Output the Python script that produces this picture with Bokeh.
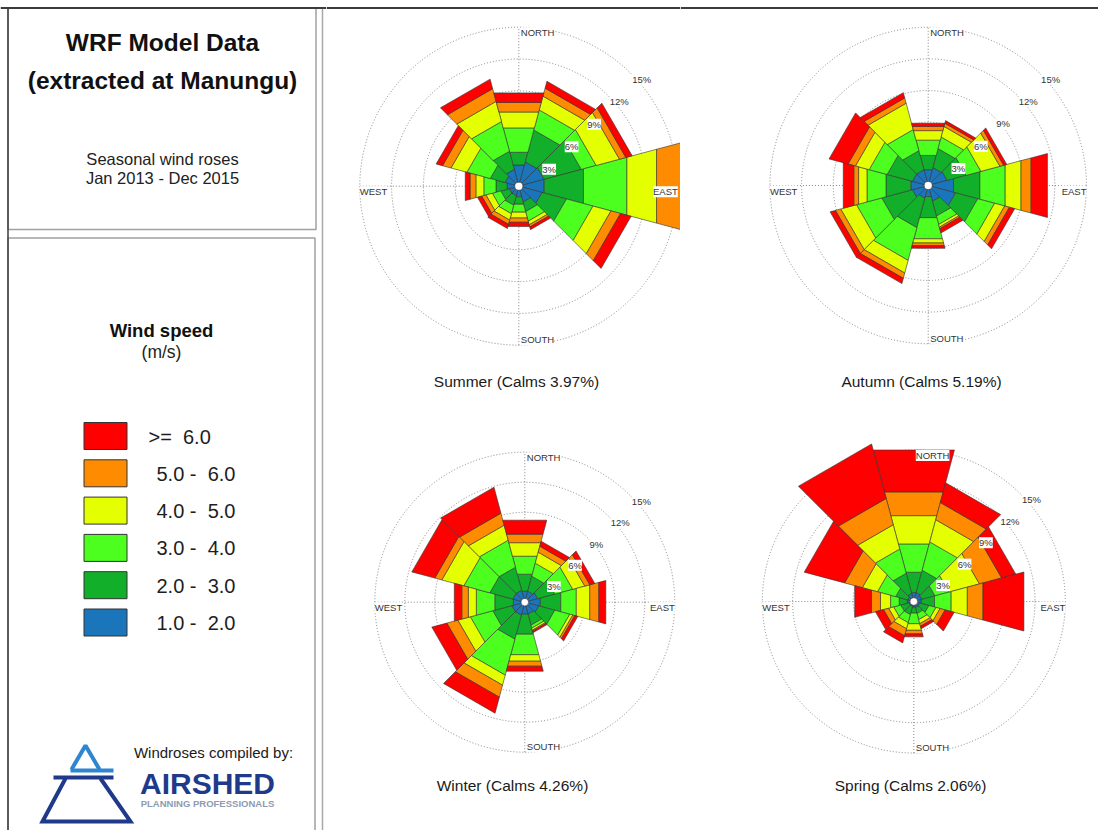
import math
from bokeh.plotting import figure
from bokeh.models import Range1d, Label
from bokeh.layouts import row, column
from bokeh.embed import file_html
from bokeh.resources import INLINE
from bokeh.core.properties import value

# ---------------- data ----------------
DIRECTIONS = [0, 30, 60, 90, 120, 150, 180, 210, 240, 270, 300, 330]
SPEED_BINS = ["1.0 -\u00a0 2.0", "2.0 -\u00a0 3.0", "3.0 -\u00a0 4.0", "4.0 -\u00a0 5.0",
              "5.0 -\u00a0 6.0", ">=\u00a0 6.0"]
BIN_COLORS = ["#1b75bb", "#12b02a", "#4cff1f", "#e3ff00", "#ff8c00", "#ff0000"]
RING_PCT = [3, 6, 9, 12, 15]
COMPASS = ["NORTH", "EAST", "SOUTH", "WEST"]

SEASON_NAMES = ["Summer", "Autumn", "Winter", "Spring"]
CALMS = [3.97, 5.19, 4.26, 2.06]

# frequency (%) per direction for each speed bin
summer_1_2 = [2.0, 2.3, 2.4, 2.4, 2.2, 1.5, 1.0, 0.9, 0.9, 1.1, 1.3, 1.6]
summer_2_3 = [1.2, 3.0, 3.5, 3.7, 2.3, 0.9, 0.7, 0.9, 0.8, 1.05, 1.4, 1.7]
summer_3_4 = [2.3, 1.9, 1.4, 4.1, 2.5, 0.9, 0.75, 0.8, 0.8, 1.15, 2.2, 2.8]
summer_4_5 = [1.5, 1.3, 2.2, 2.8, 1.7, 0.35, 0.55, 0.6, 0.6, 0.75, 1.5, 1.9]
summer_5_6 = [0.9, 0.75, 0.6, 3.5, 0.9, 0.2, 0.4, 0.4, 0.4, 0.55, 0.8, 1.2]
summer_6p = [0.9, 0.65, 0.6, 0.8, 1.0, 0.25, 0.4, 0.4, 0.4, 0.45, 0.6, 0.9]

autumn_1_2 = [1.5, 1.7, 1.8, 2.4, 2.6, 1.5, 1.05, 1.2, 1.5, 1.65, 1.5, 1.5]
autumn_2_3 = [1.35, 1.8, 1.8, 2.5, 2.1, 1.4, 2.0, 2.8, 2.9, 2.35, 2.4, 1.8]
autumn_3_4 = [1.45, 1.1, 1.4, 2.4, 1.6, 0.8, 2.0, 3.1, 2.4, 1.8, 1.7, 2.0]
autumn_4_5 = [0.9, 1.0, 1.8, 1.5, 0.95, 0.25, 0.4, 1.2, 1.5, 0.8, 1.3, 2.5]
autumn_5_6 = [0.4, 0.3, 0.35, 0.95, 0.45, 0.15, 0.25, 0.5, 0.5, 0.45, 0.7, 0.5]
autumn_6p = [0.3, 0.25, 0.3, 1.55, 0.5, 0.4, 0.25, 0.5, 0.5, 1.0, 1.8, 0.5]

winter_1_2 = [1.1, 1.1, 1.3, 1.55, 1.4, 1.2, 1.2, 1.3, 1.3, 1.15, 1.2, 1.2]
winter_2_3 = [1.7, 1.5, 1.7, 2.05, 1.6, 1.1, 2.0, 2.4, 1.9, 1.85, 2.3, 2.3]
winter_3_4 = [1.8, 1.3, 1.8, 1.55, 1.5, 0.3, 2.05, 3.6, 2.25, 1.85, 2.6, 2.7]
winter_4_5 = [1.35, 1.1, 1.2, 1.35, 0.3, 0.2, 0.65, 1.0, 1.25, 0.8, 2.2, 1.5]
winter_5_6 = [0.85, 0.6, 0.5, 0.9, 0.2, 0.1, 0.5, 1.2, 1.1, 0.65, 0.7, 1.2]
winter_6p = [1.4, 0.5, 0.5, 0.7, 0.3, 0.15, 0.5, 1.6, 1.5, 0.75, 2.3, 2.6]

spring_1_2 = [0.9, 0.9, 0.8, 0.75, 0.6, 0.6, 0.55, 0.5, 0.5, 0.65, 0.6, 0.8]
spring_2_3 = [2.0, 2.2, 1.3, 1.3, 0.9, 0.6, 0.6, 0.8, 0.8, 0.8, 1.2, 2.0]
spring_3_4 = [2.8, 2.8, 1.4, 1.65, 0.7, 0.6, 1.05, 0.8, 0.7, 0.85, 1.8, 2.4]
spring_4_5 = [2.8, 2.2, 3.0, 1.6, 0.4, 0.4, 0.65, 0.6, 0.5, 1.0, 1.5, 2.4]
spring_5_6 = [2.35, 1.7, 2.2, 1.55, 0.5, 0.25, 0.35, 0.7, 0.5, 0.9, 1.75, 2.6]
spring_6p = [4.15, 1.95, 1.4, 4.05, 0.9, 0.25, 0.3, 0.7, 0.8, 1.65, 4.0, 5.4]

SEASON_BINS = [
    [summer_1_2, summer_2_3, summer_3_4, summer_4_5, summer_5_6, summer_6p],
    [autumn_1_2, autumn_2_3, autumn_3_4, autumn_4_5, autumn_5_6, autumn_6p],
    [winter_1_2, winter_2_3, winter_3_4, winter_4_5, winter_5_6, winter_6p],
    [spring_1_2, spring_2_3, spring_3_4, spring_4_5, spring_5_6, spring_6p],
]

# ---------------- layout (page pixels) ----------------
SANS = "Liberation Sans, Arial, sans-serif"
RING_COLOR = "#7a7a7a"
EDGE = "#333333"
PAGE_W, PAGE_H = 1098, 830
LEFT_W = 326
TOP_H = 420

PANELS = [
    # fig box (x0, y0, w, h), centre (cx, cy), px per %, title centre
    ((LEFT_W, 0, 354, TOP_H), (518.3, 185.7), 10.6, (516, 381)),
    ((680, 0, PAGE_W - 680, TOP_H), (927.7, 185.0), 10.55, (921, 381)),
    ((LEFT_W, TOP_H, 374, PAGE_H - TOP_H), (524.3, 601.7), 10.0, (512, 785)),
    ((700, TOP_H, PAGE_W - 700, PAGE_H - TOP_H), (913.3, 601.0), 10.1, (910, 785)),
]

HALF = 15.0
KCH = 1.0 / math.cos(math.radians(HALF))


def petal(r0, r1, bearing):
    a0 = math.radians(bearing - HALF)
    a1 = math.radians(bearing + HALF)
    R0, R1 = r0 * KCH, r1 * KCH
    xs = [R0 * math.sin(a0), R1 * math.sin(a0), R1 * math.sin(a1), R0 * math.sin(a1)]
    ys = [R0 * math.cos(a0), R1 * math.cos(a0), R1 * math.cos(a1), R0 * math.cos(a1)]
    return xs, ys


def make_rose(idx):
    (x0, y0, w, h), (cx, cy), s, (tx, ty) = PANELS[idx]
    xr = Range1d((x0 - cx) / s, (x0 + w - cx) / s)
    yr = Range1d((cy - (y0 + h)) / s, (cy - y0) / s)
    p = figure(width=w, height=h, x_range=xr, y_range=yr, output_backend="svg",
               toolbar_location=None, min_border=0, x_axis_location=None,
               y_axis_location=None, outline_line_color=None)
    p.grid.visible = False
    p.background_fill_color = "white"
    p.border_fill_color = "white"

    R = RING_PCT[-1]
    p.circle(x=[0] * len(RING_PCT), y=[0] * len(RING_PCT), radius=RING_PCT,
             fill_color=None, line_color=RING_COLOR, line_dash="1 2", line_width=0.9)
    p.segment(x0=[-R, 0], y0=[0, -R], x1=[R, 0], y1=[0, R],
              line_color=RING_COLOR, line_dash="1 2", line_width=0.9)

    bins = SEASON_BINS[idx]
    cum = [0.0] * len(DIRECTIONS)
    xs, ys, cols = [], [], []
    for k, freq in enumerate(bins):
        for i, b in enumerate(DIRECTIONS):
            r0 = cum[i]
            r1 = r0 + freq[i]
            px, py = petal(r0, r1, b)
            xs.append(px)
            ys.append(py)
            cols.append(BIN_COLORS[k])
            cum[i] = r1
    p.patches(xs, ys, fill_color=cols, line_color=EDGE, line_width=0.6)
    p.circle(x=[0], y=[0], radius=0.38, fill_color="white", line_color=EDGE, line_width=0.6)

    # ring labels
    for r in RING_PCT:
        a = math.radians(45)
        p.add_layout(Label(x=r * math.sin(a), y=r * math.cos(a), text=f"{r}%",
                           text_font=SANS, text_font_size="9.5px", text_color="#333333",
                           text_align="left", text_baseline="top", x_offset=1,
                           background_fill_color="white"))
    # compass labels
    specs = {
        "NORTH": (0, R, "left", "top", 2),
        "EAST": (R, 0, "right", "top", 0),
        "SOUTH": (0, -R, "left", "bottom", 2),
        "WEST": (-R, 0, "left", "top", 0),
    }
    for name in COMPASS:
        lx, ly, al, bl, xo = specs[name]
        p.add_layout(Label(x=lx, y=ly, text=name, text_font=SANS, text_font_size="9.5px",
                           text_color="#333333", text_align=al, text_baseline=bl,
                           x_offset=xo, background_fill_color="white"))

    title = f"{SEASON_NAMES[idx]} (Calms {CALMS[idx]:.2f}%)"
    p.text(x=[(tx - cx) / s], y=[(cy - ty) / s], text=[title], text_align="center",
           text_baseline="middle", text_font=value(SANS), text_font_size="15.5px",
           text_color="#1a1a1a")

    if y0 == 0:
        ytop = (cy - 7.5) / s
        p.segment(x0=[xr.start], x1=[xr.end], y0=[ytop], y1=[ytop],
                  line_color="#3c3c3c", line_width=2)
    return p


# ---------------- left panel ----------------
left = figure(width=LEFT_W, height=PAGE_H, x_range=Range1d(0, LEFT_W), y_range=Range1d(PAGE_H, 0),
              output_backend="svg", toolbar_location=None, min_border=0,
              x_axis_location=None, y_axis_location=None, outline_line_color=None)
left.grid.visible = False
left.background_fill_color = "white"
left.border_fill_color = "white"

left.quad(left=[7.5, 7.5], right=[315.5, 314.5], top=[7.5, 237.5], bottom=[229, 840],
          fill_color=None, line_color="#a0a0a0", line_width=1.5)
left.segment(x0=[322], x1=[322], y0=[7], y1=[840], line_color="#a8a8a8", line_width=1.5)
left.segment(x0=[0, 7.5], x1=[LEFT_W, 7.5], y0=[7.5, 7], y1=[7.5, 840], line_color="#3c3c3c",
             line_width=[2, 1.5])

left.text(x=[162, 162], y=[42, 80], text=["WRF Model Data", "(extracted at Manungu)"],
          text_align="center", text_baseline="middle", text_font=value(SANS),
          text_font_style="bold", text_font_size="24.5px", text_color="#111111")
left.text(x=[162, 162], y=[158, 177], text=["Seasonal wind roses", "Jan 2013 - Dec 2015"],
          text_align="center", text_baseline="middle", text_font=value(SANS),
          text_font_size="16.5px", text_color="#222222")
left.text(x=[161], y=[330], text=["Wind speed"], text_align="center", text_baseline="middle",
          text_font=value(SANS), text_font_style="bold", text_font_size="18.5px",
          text_color="#111111")
left.text(x=[161], y=[351], text=["(m/s)"], text_align="center", text_baseline="middle",
          text_font=value(SANS), text_font_size="17.5px", text_color="#222222")

# legend (highest speed at the top)
leg_labels = list(reversed(SPEED_BINS))
leg_colors = list(reversed(BIN_COLORS))
tops = [422 + 37.3 * j for j in range(len(leg_labels))]
left.quad(left=[83.5] * 6, right=[126.5] * 6, top=tops, bottom=[t + 27 for t in tops],
          fill_color=leg_colors, line_color=EDGE, line_width=1)
left.text(x=[148 if lab.startswith(">") else 156 for lab in leg_labels],
          y=[t + 14 for t in tops], text=leg_labels, text_align="left",
          text_baseline="middle", text_font=value(SANS), text_font_size="20px",
          text_color="#1e1e1e")

# logo
left.text(x=[213], y=[752], text=["Windroses compiled by:"], text_align="center",
          text_baseline="middle", text_font=value(SANS), text_font_size="15px",
          text_color="#1a1a1a")
left.text(x=[207], y=[783], text=["AIRSHED"], text_align="center", text_baseline="middle",
          text_font=value(SANS), text_font_style="bold", text_font_size="30px",
          text_color="#1f3a8a")
left.text(x=[207], y=[803], text=["PLANNING PROFESSIONALS"], text_align="center",
          text_baseline="middle", text_font=value(SANS), text_font_style="bold",
          text_font_size="9.5px", text_color="#8d9bb3")
left.multi_line(xs=[[71, 85, 99], [70, 113]], ys=[[769, 745, 769], [770, 770]],
                line_color="#2f86d0", line_width=4)
left.multi_line(xs=[[53, 113], [65, 42, 130, 100]], ys=[[777, 777], [778, 821, 821, 778]],
                line_color="#1f3a8a", line_width=4, line_join="miter")

roses = [make_rose(i) for i in range(4)]
layout = row(left, column(row(roses[0], roses[1]), row(roses[2], roses[3])))

open("out.html", "w").write(file_html(layout, INLINE))
